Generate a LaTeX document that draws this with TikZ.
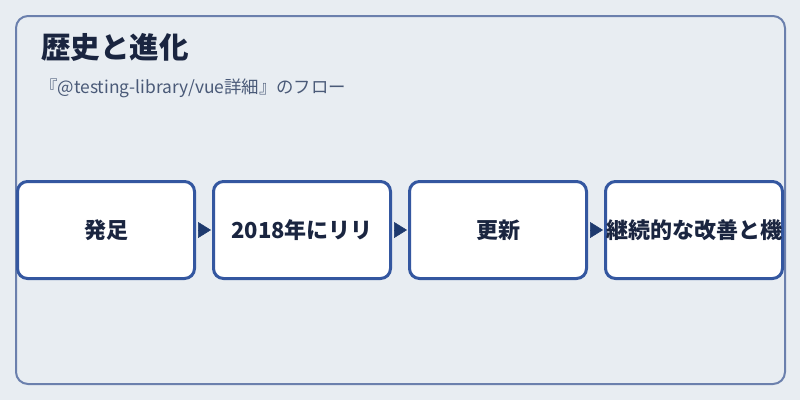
\documentclass[tikz,border=0pt]{standalone}
\usepackage{fontspec}
\setmainfont{Noto Sans CJK JP}
\usetikzlibrary{arrows.meta}
\definecolor{bgpanel}{HTML}{E8EDF2}
\definecolor{frameline}{HTML}{6B80AD}
\definecolor{stageline}{HTML}{3457A0}
\definecolor{arrowfill}{HTML}{1E3A6E}
\definecolor{ink}{HTML}{1A2540}
\definecolor{subink}{HTML}{4A5A78}
\begin{document}
\begin{tikzpicture}[x=1pt,y=-1pt,
  stage/.style={draw=stageline, line width=3pt, fill=white, rounded corners=10pt,
    minimum width=177pt, minimum height=97pt, inner sep=0pt, outer sep=0pt,
    text=ink, font=\bfseries\fontsize{22}{26}\selectfont},
  flow/.style={draw=arrowfill, fill=arrowfill, line width=0.5pt,
    -{Triangle[length=13pt,width=16pt]}, shorten <=3.5pt, shorten >=2.5pt}]
\fill[bgpanel] (0,0) rectangle (800,400);
\useasboundingbox (0,0) rectangle (800,400);
\draw[frameline, line width=2pt, rounded corners=12pt] (16,16) rectangle (785,384);
\node[anchor=west, inner sep=0pt, text=ink, font=\bfseries\fontsize{29.5}{34}\selectfont]
  (title) at (41,47) {歴史と進化};
\node[anchor=west, inner sep=0pt, text=subink, font=\fontsize{17.4}{21}\selectfont]
  (subtitle) at (40,88) {『@testing-library/vue詳細』のフロー};
\foreach \k/\t in {0/発足, 1/2018年にリリ, 2/更新, 3/継続的な改善と機}
  \node[stage] (s\k) at (106+196*\k,230) {\t};
\foreach \k [evaluate=\k as \n using int(\k+1)] in {0,1,2}
  \draw[flow] (s\k.east) -- (s\n.west);
\end{tikzpicture}
\end{document}
